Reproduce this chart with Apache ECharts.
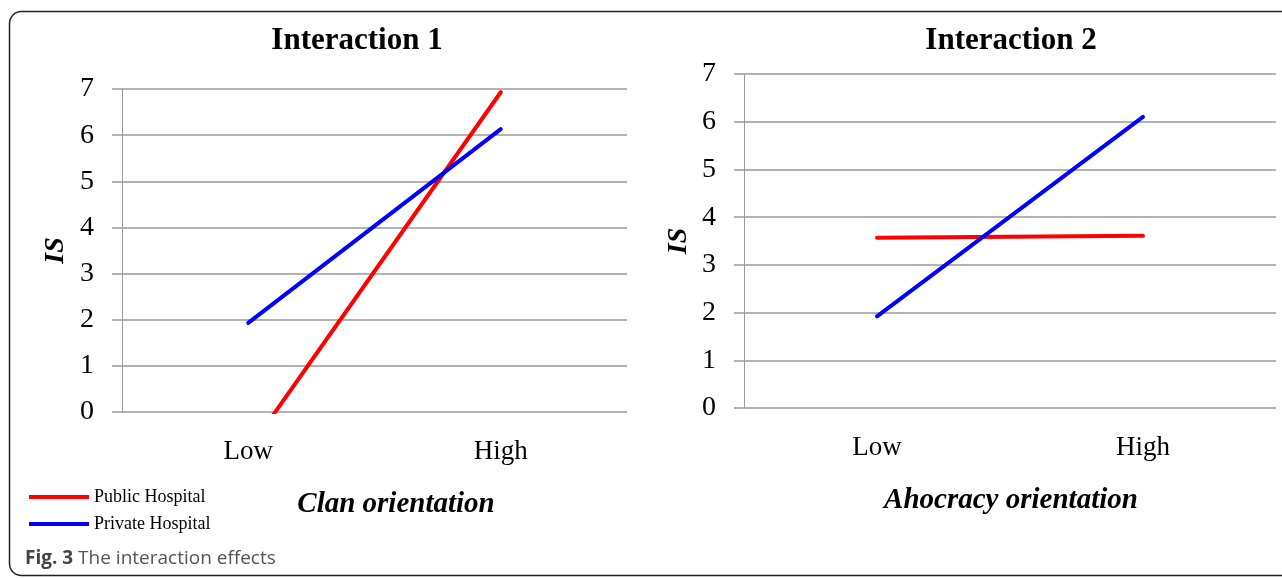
<!DOCTYPE html>
<html><head><meta charset="utf-8">
<style>html,body{margin:0;padding:0;background:#fff}#c{width:1282px;height:578px}</style>
<script src="https://cdn.jsdelivr.net/npm/echarts@6/dist/echarts.min.js"></script>
</head><body><div id="c"></div>
<script>
const categories = ['Low', 'High'];
const yTicks = [0, 1, 2, 3, 4, 5, 6, 7];
const publicClan = [-0.83, 6.93];
const privateClan = [1.93, 6.13];
const publicAdhocracy = [3.57, 3.61];
const privateAdhocracy = [1.92, 6.1];
const titles = ['Interaction 1', 'Interaction 2'];
const xNames = ['Clan orientation', 'Ahocracy orientation'];
const yName = 'IS';
const seriesNames = ['Public Hospital', 'Private Hospital'];

const serif = 'Liberation Serif';
const chart = echarts.init(document.getElementById('c'), null, {renderer: 'canvas'});
function xAxis(i) {
  return {type: 'category', gridIndex: i, data: categories, boundaryGap: true,
    axisLine: {show: false}, axisTick: {show: false},
    axisLabel: {color: '#000', fontFamily: serif, fontSize: 27, margin: 26}};
}
function yAxis(i, gap) {
  return {type: 'value', gridIndex: i, min: yTicks[0], max: yTicks[yTicks.length - 1], interval: 1,
    name: yName, nameLocation: 'middle', nameGap: gap, nameRotate: 90,
    nameTextStyle: {fontFamily: serif, fontStyle: 'italic', fontWeight: 'bold', fontSize: 28, color: '#000'},
    axisLine: {show: true, lineStyle: {color: '#999', width: 1}},
    axisTick: {show: true, length: 10, lineStyle: {color: '#b3b3b3', width: 2}},
    splitLine: {show: true, lineStyle: {color: '#b3b3b3', width: 2}},
    axisLabel: {color: '#000', fontFamily: serif, fontSize: 28, margin: 28}};
}
function line(name, data, i, color) {
  return {type: 'line', name, data, xAxisIndex: i, yAxisIndex: i, symbol: 'none', clip: true,
    lineStyle: {color, width: 4, cap: 'round'}, itemStyle: {color}, animation: false};
}
const colors = ['#ff0000', '#0000ff'];
const legendText = {fontFamily: serif, fontSize: 18, color: '#000', lineHeight: 20};
chart.setOption({
  animation: false,
  title: [
    {text: titles[0], left: 352, top: 20, textAlign: 'center', textStyle: {fontFamily: serif, fontWeight: 'bold', fontSize: 31, color: '#000'}},
    {text: titles[1], left: 1006, top: 20, textAlign: 'center', textStyle: {fontFamily: serif, fontWeight: 'bold', fontSize: 31, color: '#000'}},
    {text: xNames[0], left: 391, top: 485, textAlign: 'center', textStyle: {fontFamily: serif, fontWeight: 'bold', fontStyle: 'italic', fontSize: 29, color: '#000'}},
    {text: xNames[1], left: 1006, top: 481, textAlign: 'center', textStyle: {fontFamily: serif, fontWeight: 'bold', fontStyle: 'italic', fontSize: 29, color: '#000'}}
  ],
  legend: [
    {data: [seriesNames[0]], left: 29, top: 487, icon: 'rect', itemWidth: 60, itemHeight: 4, itemGap: 6,
      textStyle: legendText, padding: 0, selectedMode: false},
    {data: [seriesNames[1]], left: 29, top: 514, icon: 'rect', itemWidth: 60, itemHeight: 4, itemGap: 6,
      textStyle: legendText, padding: 0, selectedMode: false}
  ],
  grid: [
    {left: 122, top: 89, width: 505, height: 323},
    {left: 744, top: 74, width: 532, height: 334}
  ],
  xAxis: [xAxis(0), xAxis(1)],
  yAxis: [yAxis(0, 52), yAxis(1, 51)],
  series: [
    line(seriesNames[0], publicClan, 0, colors[0]),
    line(seriesNames[1], privateClan, 0, colors[1]),
    line(seriesNames[0], publicAdhocracy, 1, colors[0]),
    line(seriesNames[1], privateAdhocracy, 1, colors[1])
  ],
  graphic: [
    {type: 'rect', shape: {x: 9.5, y: 11.5, width: 1300, height: 564, r: 12}, style: {fill: 'none', stroke: '#222', lineWidth: 1.5}, silent: true},
    {type: 'text', left: 25, top: 549, style: {text: '{b|Fig. 3} The interaction effects', fontFamily: 'Open Sans', fontSize: 19, fill: '#555',
      rich: {b: {fontFamily: 'Open Sans', fontWeight: 'bold', fontSize: 19, fill: '#444'}}}}
  ]
});
</script></body></html>
